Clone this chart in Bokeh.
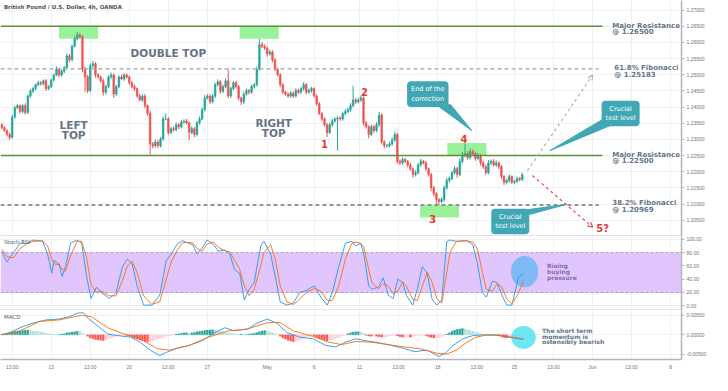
from bokeh.plotting import figure
from bokeh.layouts import column
from bokeh.models import (Range1d, FixedTicker, PrintfTickFormatter, Label, Span,
                          BoxAnnotation, Arrow, OpenHead)
from bokeh.core.properties import value
from bokeh.embed import file_html
from bokeh.resources import INLINE

# ---------------- data ----------------
title_text = "British Pound / U.S. Dollar, 4h, OANDA"
x_tick_pos = [4, 19, 34, 49, 64, 79, 102, 120, 137.5, 152.5, 167.5, 182.5, 197, 212, 227, 242, 257]
x_tick_labels = ["13:00", "13", "13:00", "20", "13:00", "27", "May", "6", "11", "13:00",
                 "18", "13:00", "25", "13:00", "Jun", "13:00", "8"]
price_ticks = [1.205, 1.210, 1.215, 1.220, 1.225, 1.230, 1.235, 1.240, 1.245, 1.250,
               1.255, 1.260, 1.265, 1.270]
stoch_ticks = [0, 20, 40, 60, 80, 100]
macd_ticks = [-0.005, 0.0, 0.005]

open_first = 1.2345
closes = [
    1.2336, 1.2327, 1.2315, 1.2306, 1.2369, 1.2398, 1.2404, 1.2386, 1.2404, 1.2383,
    1.2434, 1.2449, 1.2457, 1.2469, 1.2475, 1.2472, 1.2481, 1.2457, 1.2463, 1.2484,
    1.2499, 1.2517, 1.2499, 1.2511, 1.2522, 1.2558, 1.2546, 1.2588, 1.2611, 1.2623,
    1.2617, 1.2517, 1.2493, 1.2451, 1.2528, 1.2534, 1.2499, 1.2493, 1.2481, 1.2446,
    1.2463, 1.2493, 1.2499, 1.2440, 1.2463, 1.2493, 1.2487, 1.2499, 1.2493, 1.2475,
    1.2463, 1.2457, 1.2434, 1.2422, 1.2434, 1.2404, 1.2380, 1.2286, 1.2280, 1.2292,
    1.2280, 1.2301, 1.2363, 1.2363, 1.2321, 1.2333, 1.2330, 1.2345, 1.2339, 1.2354,
    1.2357, 1.2351, 1.2321, 1.2333, 1.2315, 1.2351, 1.2363, 1.2392, 1.2428, 1.2434,
    1.2416, 1.2434, 1.2469, 1.2478, 1.2449, 1.2463, 1.2481, 1.2434, 1.2457, 1.2475,
    1.2463, 1.2428, 1.2416, 1.2440, 1.2451, 1.2446, 1.2463, 1.2469, 1.2517, 1.2593,
    1.2588, 1.2582, 1.2564, 1.2570, 1.2546, 1.2517, 1.2499, 1.2469, 1.2446, 1.2440,
    1.2434, 1.2443, 1.2434, 1.2451, 1.2446, 1.2457, 1.2469, 1.2446, 1.2451, 1.2457,
    1.2434, 1.2410, 1.2380, 1.2363, 1.2345, 1.2321, 1.2345, 1.2357, 1.2363, 1.2366,
    1.2363, 1.2380, 1.2386, 1.2392, 1.2404, 1.2422, 1.2416, 1.2422, 1.2428, 1.2351,
    1.2339, 1.2315, 1.2339, 1.2327, 1.2345, 1.2375, 1.2292, 1.2280, 1.2280, 1.2286,
    1.2298, 1.2315, 1.2232, 1.2227, 1.2238, 1.2232, 1.2221, 1.2209, 1.2191, 1.2197,
    1.2221, 1.2232, 1.2227, 1.2209, 1.2191, 1.2150, 1.2132, 1.2114, 1.2108, 1.2114,
    1.2150, 1.2173, 1.2179, 1.2197, 1.2209, 1.2191, 1.2232, 1.2250, 1.2256, 1.2244,
    1.2262, 1.2256, 1.2241, 1.2250, 1.2227, 1.2215, 1.2197, 1.2227, 1.2232, 1.2221,
    1.2227, 1.2215, 1.2185, 1.2167, 1.2173, 1.2185, 1.2167, 1.2170, 1.2179, 1.2176,
    1.21906]
wick_up_pips = [
    4, 5, 3, 6, 8, 5, 6, 4, 5, 7,
    4, 6, 5, 3, 6, 5, 4, 6, 5, 4,
    5, 8, 4, 6, 5, 8, 6, 5, 7, 9,
    6, 5, 8, 6, 7, 9, 5, 6, 4, 7,
    6, 5, 8, 5, 6, 5, 7, 6, 5, 4,
    5, 6, 4, 7, 5, 6, 4, 8, 6, 7,
    5, 6, 8, 17, 6, 5, 6, 7, 5, 6,
    5, 6, 4, 7, 5, 6, 8, 7, 9, 6,
    5, 7, 6, 8, 5, 6, 7, 36, 6, 5,
    6, 5, 4, 7, 6, 5, 6, 5, 8, 18,
    8, 6, 5, 7, 6, 5, 4, 6, 5, 4,
    5, 6, 5, 7, 6, 5, 8, 5, 6, 5,
    4, 5, 6, 4, 5, 6, 7, 6, 5, 6,
    5, 6, 7, 6, 8, 44, 6, 7, 8, 5,
    6, 5, 7, 6, 8, 10, 6, 5, 6, 7,
    8, 9, 5, 6, 7, 5, 4, 6, 5, 7,
    6, 8, 5, 6, 4, 5, 6, 5, 4, 6,
    7, 8, 6, 5, 9, 6, 10, 12, 30, 8,
    10, 7, 6, 8, 5, 6, 7, 9, 6, 7,
    8, 5, 6, 4, 5, 7, 4, 5, 6, 5,
    6]
wick_dn_pips = [
    5, 4, 6, 8, 4, 5, 4, 6, 5, 6,
    4, 5, 6, 5, 4, 6, 5, 7, 5, 4,
    6, 4, 7, 5, 6, 4, 8, 5, 4, 5,
    5, 10, 47, 8, 5, 6, 8, 5, 6, 10,
    7, 5, 6, 12, 6, 5, 4, 6, 5, 6,
    5, 7, 6, 5, 6, 8, 7, 33, 8, 6,
    7, 5, 6, 4, 8, 5, 6, 5, 7, 5,
    6, 5, 24, 5, 8, 6, 5, 4, 6, 5,
    7, 5, 6, 5, 8, 6, 5, 7, 6, 5,
    6, 8, 10, 6, 5, 7, 5, 6, 5, 4,
    6, 5, 8, 5, 7, 6, 5, 8, 6, 5,
    6, 5, 7, 5, 6, 5, 6, 7, 5, 6,
    5, 6, 5, 7, 6, 14, 5, 6, 5, 98,
    6, 5, 6, 5, 6, 5, 7, 5, 6, 8,
    6, 12, 5, 7, 5, 6, 8, 7, 6, 5,
    6, 5, 8, 7, 6, 5, 7, 6, 10, 6,
    5, 6, 5, 7, 6, 10, 8, 15, 11, 5,
    6, 5, 7, 5, 6, 10, 5, 6, 5, 7,
    6, 5, 7, 6, 8, 6, 7, 5, 6, 5,
    6, 7, 8, 9, 6, 7, 5, 6, 5, 6,
    5]

stoch_x = [0, 2, 4.5, 7, 9.5, 12, 15.7, 17.6, 19.2, 20.1, 22, 23.2, 24.5, 26.4, 28.9, 30.7,
           32.6, 34.3, 36.4, 38.2, 41.4, 43.9, 46.4, 48.2, 50.1, 52, 54.5, 57.6, 60.7, 63.2,
           65.1, 67.6, 69.5, 73.3, 75.1, 77, 78.9, 81.4, 83.2, 85.7, 87.6, 89.5, 91.4, 93.2,
           95.1, 97, 99.5, 100.7, 103.3, 105.1, 107, 109.5, 112, 114.5, 117, 120.1, 122.6,
           125.1, 127, 129.5, 132, 134.5, 136, 137.9, 139.1, 141, 142.2, 144.7, 146.6, 148.5,
           150.4, 152.2, 154.1, 155.4, 157.9, 159.7, 161.6, 163.5, 165.4, 167.2, 169.1, 171,
           172.2, 174.7, 178.5, 181, 182.8, 184.7, 186.2, 188.5, 190.4, 192.2, 194.1, 196,
           198.5, 200.4]
stoch_k = [82, 66, 80, 94, 94, 99, 97, 78, 49, 68, 63, 44, 59, 94, 99, 94,
           44, 11, 28, 20, 11, 20, 59, 70, 63, 30, 1, 1, 16, 68,
           78, 94, 98, 92, 78, 87, 99, 92, 82, 84, 78, 54, 49, 9,
           25, 35, 90, 97, 78, 44, 6, 1, 4, 20, 23, 30, 13,
           1, 20, 59, 94, 97, 90, 94, 78, 30, 25, 28, 42, 16,
           11, 40, 35, 16, 1, 25, 59, 49, 9, 1, 9, 97,
           99, 97, 98, 92, 63, 20, 13, 37, 35, 16, 1, 1,
           42, 49]
stoch_d = [85, 74, 72, 86, 93, 97, 98, 90, 70, 63, 62, 55, 52, 75, 97, 97,
           72, 32, 20, 22, 15, 15, 38, 60, 67, 50, 15, 2, 6, 40,
           66, 85, 95, 95, 86, 82, 93, 96, 88, 83, 81, 68, 55, 30,
           15, 25, 60, 80, 92, 70, 30, 6, 2, 10, 20, 26, 22,
           8, 8, 30, 70, 94, 96, 94, 88, 55, 35, 26, 33, 30,
           18, 22, 36, 30, 10, 8, 30, 50, 35, 10, 4, 50,
           80, 97, 98, 96, 85, 50, 25, 22, 33, 28, 10, 3,
           18, 38]

macd_x = [0, 3.25, 7, 12, 17, 22, 25.7, 29.5, 31.4, 33.2, 37, 40.7, 44.5, 49.5, 53.2, 57,
          60.7, 63.2, 67, 72, 77, 82, 85.7, 89.5, 94.5, 98.2, 102, 105.7, 109.5, 114.5,
          119.5, 124.5, 128.2, 132, 136, 139.7, 144.7, 149.7, 154.7, 158.5, 163.5, 167.9,
          170.4, 173.5, 177.2, 181, 186, 191, 194.7, 200.4]
macd_line = [0.0, 0.0006, 0.0018, 0.0030, 0.0038, 0.0040, 0.0046, 0.0056, 0.0056, 0.0042,
             0.0022, 0.0002, -0.0002, -0.0006, -0.0019, -0.0039, -0.0053, -0.0045, -0.0035,
             -0.0027, -0.0015, 0.0006, 0.0018, 0.0010, 0.0015, 0.0030, 0.0040, 0.0030, 0.0006,
             -0.0006, -0.0010, -0.0027, -0.0031, -0.0019, -0.0010, -0.0015, -0.0020, -0.0027,
             -0.0035, -0.0043, -0.0039, -0.0055, -0.0047, -0.0027, -0.0010, -0.0002, 0.0,
             -0.0001, -0.0006, -0.0012]
signal_x = [0, 7, 14.5, 22, 30.7, 34.5, 40.7, 47, 53.2, 59.5, 64.5, 72, 79.5, 87, 94.5, 102,
            107, 112, 119.5, 125.7, 130.7, 136, 142.2, 148.5, 154.7, 161, 167.2, 171, 174.7,
            178.5, 182.2, 186, 191, 196, 200.4]
signal_line = [0.0, 0.0010, 0.0034, 0.0038, 0.0050, 0.0046, 0.0018, 0.0002, -0.0010, -0.0035,
               -0.0039, -0.0027, -0.0006, 0.0010, 0.0015, 0.0031, 0.0031, 0.0010, -0.0004,
               -0.0019, -0.0025, -0.0017, -0.0019, -0.0025, -0.0031, -0.0036, -0.0047, -0.0049,
               -0.0039, -0.0020, -0.0006, -0.0001, -0.0001, -0.0006, -0.0010]
macd_hist = [
    0.0002, 0.0003, 0.0004, 0.0006, 0.0008, 0.0009, 0.0010, 0.0010, 0.0011, 0.0012,
    0.0012, 0.0011, 0.0010, 0.0009, 0.0008, 0.0007, 0.0006, 0.0004, 0.0003, 0.0002,
    0.0001, 0.0000, 0.0001, 0.0002, 0.0003, 0.0005, 0.0006, 0.0007, 0.0008, 0.0009,
    0.0008, 0.0004, 0.0001, -0.0004, -0.0008, -0.0010, -0.0012, -0.0013, -0.0014, -0.0015,
    -0.0013, -0.0011, -0.0008, -0.0006, -0.0004, -0.0002, -0.0001, -0.0001, -0.0002, -0.0003,
    -0.0006, -0.0009, -0.0011, -0.0013, -0.0015, -0.0017, -0.0018, -0.0017, -0.0015, -0.0013,
    -0.0011, -0.0009, -0.0007, -0.0005, -0.0003, -0.0002, -0.0001, 0.0002, 0.0003, 0.0004,
    0.0005, 0.0005, 0.0004, 0.0005, 0.0006, 0.0008, 0.0009, 0.0010, 0.0011, 0.0012,
    0.0012, 0.0013, 0.0012, 0.0010, 0.0009, 0.0008, 0.0006, 0.0005, 0.0004, 0.0003,
    0.0002, 0.0001, 0.0002, 0.0001, 0.0001, 0.0002, 0.0003, 0.0004, 0.0006, 0.0008,
    0.0010, 0.0011, 0.0010, 0.0007, 0.0005, 0.0003, 0.0001, -0.0004, -0.0008, -0.0011,
    -0.0014, -0.0016, -0.0018, -0.0017, -0.0015, -0.0012, -0.0009, -0.0006, -0.0004, -0.0003,
    -0.0004, -0.0007, -0.0010, -0.0012, -0.0014, -0.0015, -0.0014, -0.0012, -0.0010, -0.0008,
    -0.0005, -0.0003, -0.0001, 0.0003, 0.0005, 0.0007, 0.0008, 0.0008, 0.0007, 0.0004,
    -0.0001, -0.0003, -0.0004, -0.0003, -0.0004, -0.0005, -0.0006, -0.0006, -0.0005, -0.0003,
    -0.0002, -0.0001, -0.0003, -0.0005, -0.0006, -0.0006, -0.0005, -0.0006, -0.0005, -0.0003,
    -0.0002, -0.0001, -0.0001, -0.0002, -0.0005, -0.0007, -0.0008, -0.0008, -0.0007, -0.0005,
    -0.0002, 0.0002, 0.0005, 0.0009, 0.0012, 0.0014, 0.0015, 0.0016, 0.0015, 0.0013,
    0.0011, 0.0009, 0.0007, 0.0005, 0.0003, 0.0001, 0.0000, 0.0000, 0.0000, 0.0001,
    0.0000, -0.0003, -0.0005, -0.0007, -0.0008, -0.0008, -0.0007, -0.0005, -0.0004, -0.0003,
    -0.0003]

resistance_levels = [1.26500, 1.22500]
fib_levels = [1.25183, 1.20969]
last_price = 1.21906
countdown = "07:43"

# ---------------- styling helpers ----------------
PIP = 0.0001
UP, DN = "#26a69a", "#ef5350"
GRID = "#eef0f4"
AXIS = "#b2b5be"
TICKC = "#70737d"
FONT = "DejaVu Sans"
TEAL = "#41a7b5"
FW = 681

xr = Range1d(-0.5, 261.2)


def make_fig(fh, yr, yticks, fmt, show_x):
    p = figure(frame_width=FW, frame_height=fh, x_range=xr, y_range=yr,
               y_axis_location="right", output_backend="svg", toolbar_location=None,
               min_border_left=0, min_border_top=0, min_border_bottom=0, min_border_right=0)
    p.outline_line_color = None
    p.background_fill_color = "white"
    p.border_fill_color = "white"
    ya = p.yaxis[0]
    ya.ticker = FixedTicker(ticks=yticks)
    ya.formatter = PrintfTickFormatter(format=fmt)
    ya.axis_line_color = AXIS
    ya.axis_line_width = 1.5
    ya.major_tick_line_color = AXIS
    ya.major_tick_out = 3
    ya.major_tick_in = 0
    ya.minor_tick_line_color = None
    ya.major_label_text_font_size = "5px"
    ya.major_label_text_color = TICKC
    ya.major_label_text_font = "Liberation Sans"
    ya.major_label_standoff = 2
    xa = p.xaxis[0]
    xa.minor_tick_line_color = None
    xa.major_tick_line_color = None
    xa.major_tick_out = 0
    xa.major_tick_in = 0
    if show_x:
        xa.ticker = FixedTicker(ticks=x_tick_pos)
        xa.major_label_overrides = dict(zip(x_tick_pos, x_tick_labels))
        xa.major_label_text_font_size = "5px"
        xa.major_label_text_color = TICKC
        xa.major_label_text_font = "Liberation Sans"
        xa.major_label_standoff = 4
        xa.axis_line_color = AXIS
        xa.axis_line_width = 1.5
    else:
        # axis kept only as the panel separator line: no ticks, no labels
        xa.ticker = FixedTicker(ticks=[])
        xa.major_label_standoff = 0
        xa.axis_line_color = "#c8cad0"
        xa.axis_line_width = 2
    p.xgrid.ticker = FixedTicker(ticks=x_tick_pos)
    p.ygrid.ticker = FixedTicker(ticks=yticks)
    p.xgrid.grid_line_color = GRID
    p.ygrid.grid_line_color = GRID
    return p


# ---------------- main price panel ----------------
p1 = make_fig(236, Range1d(1.19995, 1.27295), price_ticks, "%.5f", False)

n = len(closes)
idx = list(range(n))
opens = [open_first] + closes[:-1]
body_top = [max(o, c) for o, c in zip(opens, closes)]
body_bot = [min(o, c) for o, c in zip(opens, closes)]
highs = [t + w * PIP for t, w in zip(body_top, wick_up_pips)]
lows = [b - w * PIP for b, w in zip(body_bot, wick_dn_pips)]
ccol = [UP if c >= o else DN for o, c in zip(opens, closes)]

# highlighted zones
p1.quad(left=[22, 91.4, 160.7, 171.2], right=[37, 106.4, 175.7, 186.2],
        top=[1.2650, 1.2650, 1.2096, 1.2289], bottom=[1.2611, 1.2611, 1.2058, 1.2250],
        fill_color="#8ef08e", fill_alpha=0.9, line_color=None)

p1.segment(x0=idx, y0=lows, x1=idx, y1=highs, line_color=ccol, line_width=1)
p1.vbar(x=idx, width=0.62, top=body_top, bottom=body_bot, fill_color=ccol,
        line_color=ccol, line_width=0.6)

# levels
p1.segment(x0=[-0.5, -0.5], x1=[230.8, 230.8], y0=resistance_levels, y1=resistance_levels,
           line_color="#5d8f3a", line_width=1.4)
p1.segment(x0=[-0.5], x1=[229.4], y0=[fib_levels[0]], y1=[fib_levels[0]],
           line_color="#a3a3a3", line_width=1.3, line_dash="4 3")
p1.segment(x0=[-0.5], x1=[229.4], y0=[fib_levels[1]], y1=[fib_levels[1]],
           line_color="#6f7d6f", line_width=1.3, line_dash="4 3")

# projection arrows
p1.add_layout(Arrow(end=OpenHead(size=5, line_color="#a9bba4", line_width=1.2),
                    x_start=202, y_start=1.2203, x_end=227.1, y_end=1.2499,
                    line_color="#a9bba4", line_width=1.2, line_dash="3 3"))
p1.add_layout(Arrow(end=OpenHead(size=5, line_color="#e0524f", line_width=1.2),
                    x_start=203.9, y_start=1.2188, x_end=227.1, y_end=1.2028,
                    line_color="#e0524f", line_width=1.2, line_dash="3 3"))

# callout pointers
p1.patches(xs=[[167, 172.5, 180.6], [230.5, 234.5, 210.6], [199, 203, 217]],
           ys=[[1.2407, 1.2407, 1.2327], [1.2360, 1.2345, 1.2265], [1.2079, 1.2068, 1.2099]],
           fill_color=TEAL, line_color=TEAL)

for cx, cy, txt in [(163.7, 1.2440, "End of the\ncorrection"),
                    (237.8, 1.2380, "Crucial\ntest level"),
                    (195.4, 1.2046, "Crucial\ntest level")]:
    p1.add_layout(Label(x=cx, y=cy, text=txt, text_align="center", text_baseline="middle",
                        text_font=FONT, text_font_size="6.5px", text_color="white",
                        background_fill_color=TEAL, padding=4, border_radius=4))

# pattern texts
p1.text(x=[64, 27.6, 27.6, 104.5, 104.5], y=[1.2567, 1.2345, 1.2315, 1.2351, 1.2321],
        text=["DOUBLE TOP", "LEFT", "TOP", "RIGHT", "TOP"],
        text_font=value(FONT), text_font_style="bold", text_font_size="10.5px",
        text_color="#667386", text_align="center", text_baseline="middle")
p1.text(x=[124, 139.4, 165.6, 177.6, 230.9], y=[1.2286, 1.2448, 1.2055, 1.2300, 1.2025],
        text=["1", "2", "3", "4", "5?"],
        text_font=value(FONT), text_font_style="bold", text_font_size="10px",
        text_color="#e53935", text_align="center", text_baseline="middle")
p1.text(x=[234.6, 234.6, 235.4, 235.4, 234.6, 234.6, 234.6, 234.6],
        y=[1.2651, 1.2632, 1.2520, 1.2500, 1.2251, 1.2232, 1.2102, 1.2082],
        text=["Major Resistance", "@ 1.26500", "61.8% Fibonacci", "@ 1.25183",
              "Major Resistance", "@ 1.22500", "38.2% Fibonacci", "@ 1.20969"],
        text_font=value(FONT), text_font_style="bold", text_font_size="7px",
        text_color="#657588", text_align="left", text_baseline="middle")
p1.text(x=[0.8], y=[1.2709], text=[title_text], text_font=value(FONT),
        text_font_style="bold", text_font_size="5.5px", text_color="#4f5259",
        text_align="left", text_baseline="middle")

# last price labels on axis
p1.add_layout(Label(x=261.2, y=last_price, text="1.21906", x_offset=1, text_align="left",
                    text_baseline="middle", text_font="Liberation Sans", text_font_size="5.5px",
                    text_color="white", background_fill_color="#26a69a", padding=2))
p1.add_layout(Label(x=261.2, y=last_price, y_offset=-8, x_offset=8, text=countdown,
                    text_align="left", text_baseline="middle", text_font="Liberation Sans",
                    text_font_size="5.5px", text_color="white",
                    background_fill_color="#26a69a", padding=1))

# ---------------- Stoch RSI panel ----------------
p2 = make_fig(74, Range1d(-7.1, 104.3), stoch_ticks, "%.2f", False)
p2.add_layout(BoxAnnotation(bottom=20, top=80, fill_color="#dcbcfd", fill_alpha=0.85,
                            line_color=None, level="underlay"))
for lv in (80, 20):
    p2.add_layout(Span(location=lv, dimension="width", line_color="#9a90ad",
                       line_dash="3 2", line_width=0.8))
p2.ellipse(x=[200.9], y=[51.4], width=10.5, height=47, fill_color="#6cb8f5",
           fill_alpha=0.85, line_color=None)
p2.line(stoch_x, stoch_k, line_color="#2196f3", line_width=0.9)
p2.line(stoch_x, stoch_d, line_color="#ff6d00", line_width=0.9)
p2.text(x=[209.5, 209.5, 209.5], y=[60, 51.4, 42.9], text=["Rising", "buying", "pressure"],
        text_font=value(FONT), text_font_style="bold", text_font_size="6px",
        text_color="#7f6fa8", text_align="left", text_baseline="middle")
p2.text(x=[0.8], y=[95.7], text=["Stoch RSI"], text_font=value(FONT),
        text_font_size="5.5px", text_color="#55585f", text_align="left",
        text_baseline="middle")

# ---------------- MACD panel ----------------
p3 = make_fig(49, Range1d(-0.0063, 0.0062), macd_ticks, "%.5f", True)
hcol = []
prev = 0.0
for h in macd_hist:
    if h >= 0:
        hcol.append("#26a69a" if h >= prev else "#b2dfdb")
    else:
        hcol.append("#ff5252" if h < prev else "#ffcdd2")
    prev = h
p3.vbar(x=idx, width=0.75, top=macd_hist, bottom=0, fill_color=hcol, line_color=hcol,
        line_width=0.3)
p3.ellipse(x=[200.5], y=[-0.00066], width=9.4, height=0.00585, fill_color="#5ae4f2",
           fill_alpha=0.9, line_color=None)
p3.line(macd_x, macd_line, line_color="#2196f3", line_width=0.9)
p3.line(signal_x, signal_line, line_color="#ff6d00", line_width=0.9)
p3.text(x=[207.6, 207.6, 207.6], y=[0.00105, -0.0004, -0.00176],
        text=["The short term", "momentum is", "ostensibly bearish"],
        text_font=value(FONT), text_font_style="bold", text_font_size="6px",
        text_color="#657588", text_align="left", text_baseline="middle")
p3.text(x=[0.8], y=[0.00446], text=["MACD"], text_font=value(FONT),
        text_font_size="5.5px", text_color="#55585f", text_align="left",
        text_baseline="middle")

layout = column(p1, p2, p3, spacing=0)
open("out.html", "w").write(file_html(layout, INLINE))
